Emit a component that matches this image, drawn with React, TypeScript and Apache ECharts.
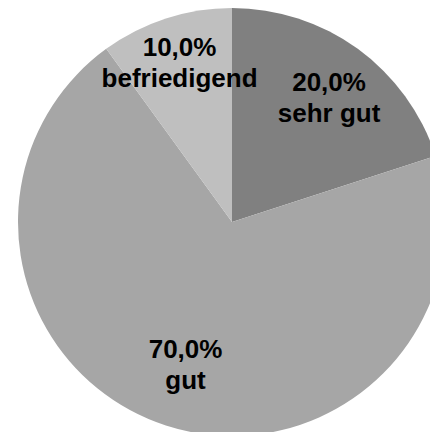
import React, { useEffect, useRef } from "react";
import * as echarts from "echarts";

const categories = ["sehr gut", "gut", "befriedigend"];
const shares = [20.0, 70.0, 10.0];
const sliceColors = ["#808080", "#a6a6a6", "#bfbfbf"];
const labelOffsets = [[3, 5], [3, -10], [-3, -7]];

export default function App() {
  const ref = useRef<HTMLDivElement>(null);
  useEffect(() => {
    if (!ref.current) return;
    const chart = echarts.init(ref.current, null, { renderer: "svg" });
    const data = categories.map((name, i) => ({
      name,
      value: shares[i],
      itemStyle: { color: sliceColors[i] },
    }));
    const labelData = categories.map((name, i) => ({
      name,
      value: shares[i],
      label: { offset: labelOffsets[i] },
    }));
    chart.setOption({
      animation: false,
      backgroundColor: "#ffffff",
      series: [
        {
          type: "pie",
          center: [232, 222],
          radius: [0, 214],
          startAngle: 90,
          clockwise: true,
          silent: true,
          label: { show: false },
          labelLine: { show: false },
          itemStyle: { borderWidth: 0 },
          data,
        },
        {
          type: "pie",
          center: [232, 222],
          radius: [100, 214],
          startAngle: 90,
          clockwise: true,
          silent: true,
          itemStyle: { color: "transparent", borderWidth: 0 },
          labelLine: { show: false },
          label: {
            show: true,
            position: "inside",
            formatter: (p: any) => `${p.value.toFixed(1).replace(".", ",")}%\n${p.name}`,
            fontFamily: "Liberation Sans, Arial, sans-serif",
            fontWeight: "bold",
            fontSize: 26,
            lineHeight: 31,
            color: "#000000",
            align: "center",
          },
          data: labelData,
        },
      ],
    });
    return () => chart.dispose();
  }, []);
  return (
    <div
      ref={ref}
      style={{ position: "absolute", left: 0, top: 0, width: 430, height: 432 }}
    />
  );
}
